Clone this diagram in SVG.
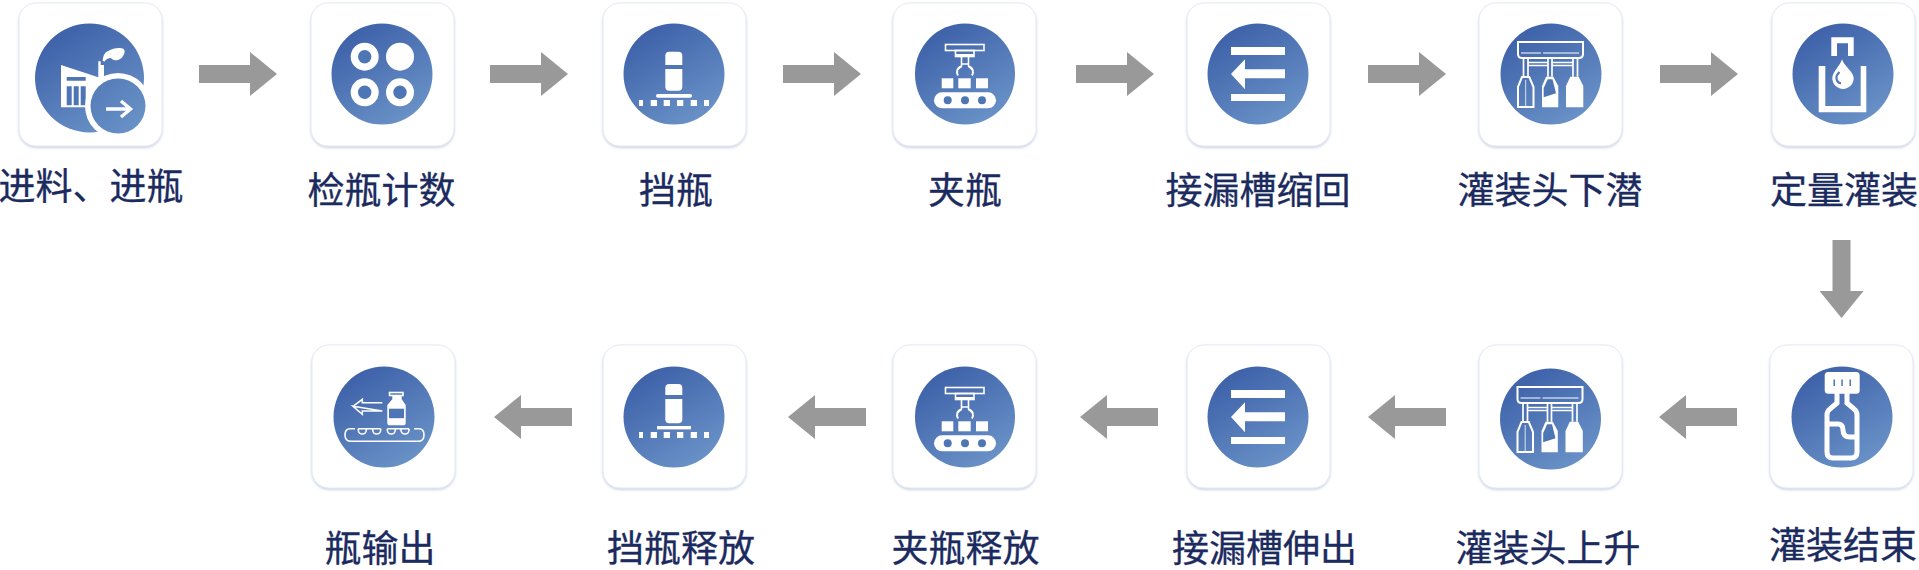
<svg xmlns="http://www.w3.org/2000/svg" width="1919" height="570" viewBox="0 0 1919 570">
<style>
.card{fill:#fff;stroke:#e4e9f3;stroke-width:1;filter:url(#sh)}
.disc{fill:url(#g)}
.w{fill:#fff}
.b{fill:#4f76b4}
.ol{fill:none;stroke:#fff;stroke-width:1.6}
.lb{font-family:"Noto Sans CJK SC","Noto Sans",sans-serif;font-size:37px;fill:#1b2b60;stroke:#1b2b60;stroke-width:.3;text-anchor:middle}
.ar{fill:#999}
</style>
<defs>
<linearGradient id="g" x1="0.2" y1="0.05" x2="0.8" y2="1"><stop offset="0" stop-color="#3d60a8"/><stop offset="1" stop-color="#6c95c9"/></linearGradient>
<linearGradient id="g2" x1="0" y1="0" x2="1" y2="1"><stop offset="0" stop-color="#5279b6"/><stop offset="1" stop-color="#6c95c9"/></linearGradient>
<filter id="sh" x="-10%" y="-10%" width="120%" height="120%"><feDropShadow dx="0" dy="1.5" stdDeviation="1.2" flood-color="#a9b8d4" flood-opacity="0.6"/></filter>
<path id="arrow" class="ar" d="M0,-9 H51 V-22 L78,0 L51,22 V9 H0Z"/>
<rect id="cardshape" class="card" width="143" height="143" rx="17"/>
<g id="ic-stop">
<rect class="disc" x="-50.5" y="-50.5" width="101" height="101" rx="50.5"/>
<rect class="w" x="-8.7" y="-22.3" width="17" height="39" rx="4"/>
<rect class="b" x="-9" y="-9" width="18" height="4"/>
<rect class="w" x="-18" y="20" width="36" height="3.7" rx="1.8"/>
<path class="w" d="M-35,26H-31V32H-35ZM-23.3,26H-17V32H-23.3ZM-10.3,26H-4V32H-10.3ZM3,26H9.3V32H3ZM16.7,26H23V32H16.7ZM30,26H35V32H30Z"/>
</g>
<g id="ic-stop2">
<rect class="disc" x="-50.5" y="-50.5" width="101" height="101" rx="50.5"/>
<rect class="w" x="-8.7" y="-33" width="17" height="39.3" rx="4"/>
<rect class="b" x="-9" y="-22" width="18" height="4"/>
<rect class="w" x="-17" y="9" width="34" height="3.4"/>
<path class="w" d="M-35,15H-31V21H-35ZM-23.3,15H-17V21H-23.3ZM-10.3,15H-4V21H-10.3ZM3,15H9.3V21H3ZM16.7,15H23V21H16.7ZM30,15H35V21H30Z"/>
</g>
<g id="ic-grip">
<rect class="disc" x="-50" y="-50.5" width="100" height="101" rx="50"/>
<rect class="ol" x="-19.5" y="-29.5" width="38.5" height="6"/>
<rect class="ol" x="-9.5" y="-23.5" width="18.5" height="6"/>
<rect class="w" x="-9.5" y="-20" width="18.5" height="3"/>
<path class="ol" d="M-3.5,-17V-8L-7,-4.5M3.5,-17V-8L7,-4.5M-3.5,-10H3.5"/>
<path d="M-3.5,-7.5C-8,-6.5-9,-2-7,1.5M3.5,-7.5C8,-6.5 9,-2 7,1.5" fill="none" stroke="#fff" stroke-width="2"/>
<rect class="w" x="-23.3" y="4.3" width="11.6" height="10"/>
<rect class="w" x="-6.7" y="4.3" width="12.4" height="10"/>
<rect class="w" x="11" y="4.3" width="12" height="10"/>
<rect class="w" x="-31" y="18.3" width="62" height="16" rx="8"/>
<circle class="b" cx="-17.3" cy="26.3" r="4"/><circle class="b" cy="26.3" r="4"/><circle class="b" cx="17" cy="26.3" r="4"/>
</g>
<g id="ic-ret">
<rect class="disc" x="-50.5" y="-50.5" width="101" height="101" rx="50.5"/>
<path class="w" d="M-27,-27H27V-19H-27ZM-27,20H27V27H-27ZM-27,0L-13,-14.7V-4.7H27V4.3H-13V15.3Z"/>
</g>
<g id="ic-fill">
<rect class="disc" x="-50.5" y="-50.5" width="101" height="101" rx="50.5"/>
<path d="M-33,-32H32V-20Q32,-16 28,-16H-29Q-33,-16-33,-20Z" fill="none" stroke="#fff" stroke-width="2"/>
<path d="M-30,-21H-10M-8,-21H28" stroke="#fff" stroke-width="1" fill="none"/>
<path d="M-27.5,-15.7V2.7M-23,-15.7V2.7M-3,-15.7V2.7M1,-15.7V2.7M22,-15.7V2.7M26.5,-15.7V2.7M-23,-11.5H-3M1,-11.5H22M-23,-8.5H-3M1,-8.5H22" fill="none" stroke="#fff" stroke-width="1.7"/>
<path d="M-29,3H-21.7L-17.5,13V33H-33V13Z" fill="none" stroke="#fff" stroke-width="2"/>
<path d="M-25.3,6V32" stroke="#fff" stroke-width="0.8"/>
<path class="w" d="M-5,2.7H2.3L7.3,12V33.3H-9V12Z"/>
<path class="b" d="M-3.3,5.3H1.5L5,19.3-7.3,23.3V14Z"/>
<path class="w" d="M19.3,2.7H27.7L32.3,12V33.3H15V12Z"/>
</g>
</defs>
<rect width="1919" height="570" fill="#fff"/>

<g id="connectors">
<use href="#arrow" x="199" y="74"/>
<use href="#arrow" x="490" y="74"/>
<use href="#arrow" x="783" y="74"/>
<use href="#arrow" x="1076" y="74"/>
<use href="#arrow" x="1368" y="74"/>
<use href="#arrow" x="1660" y="74"/>
<use href="#arrow" transform="translate(1841.5,240) rotate(90)"/>
<use href="#arrow" transform="translate(1737,417) rotate(180)"/>
<use href="#arrow" transform="translate(1446,417) rotate(180)"/>
<use href="#arrow" transform="translate(1158,417) rotate(180)"/>
<use href="#arrow" transform="translate(866,417) rotate(180)"/>
<use href="#arrow" transform="translate(572,417) rotate(180)"/>
</g>

<g id="n1">
<use href="#cardshape" x="19" y="3"/>
<circle class="disc" cx="89.5" cy="78" r="54.5"/>
<path class="w" d="M61,65L98.3,77.3V61.3H100.7V65H104V82L88.3,107.3H61Z"/>
<path class="w" d="M102.7,61C103,55.5 105,52 108.3,51C112,48.5 117,47.5 120,48C124.5,48 125.5,51 124,54C122.5,58.5 118.5,60.5 115,60.3C112.5,60.2 111.5,58 110,58C107.5,58.3 105.5,60 104.7,61.5Z"/>
<path class="b" d="M66.7,77H85.7V80.7H66.7ZM66.7,86.3H71.7V105.3H66.7ZM73.7,86.3H78.7V105.3H73.7ZM80.7,86.3H85.7V105.3H80.7Z"/>
<circle class="w" cx="118" cy="106" r="33"/>
<circle cx="118" cy="106" r="27.5" fill="url(#g2)"/>
<path d="M106,109H130M121,101L130.5,109L121,117" fill="none" stroke="#fff" stroke-width="3.4"/>
<text class="lb" x="91" y="200">进料、进瓶</text>
</g>

<g id="n2">
<use href="#cardshape" x="311" y="3"/>
<circle class="disc" cx="382" cy="74" r="50.5"/>
<g class="w"><circle cx="364.7" cy="56.7" r="14"/><circle cx="400" cy="56.7" r="14"/><circle cx="364.7" cy="92.3" r="14"/><circle cx="400" cy="92.3" r="14"/></g>
<g class="b"><circle cx="364.7" cy="56.7" r="6.7"/><circle cx="364.7" cy="92.3" r="6.7"/><circle cx="400" cy="92.3" r="6.7"/></g>
<text class="lb" x="381.5" y="204">检瓶计数</text>
</g>

<g id="n3">
<use href="#cardshape" x="603" y="3"/>
<use href="#ic-stop" x="674" y="74"/>
<text class="lb" x="676" y="204">挡瓶</text>
</g>

<g id="n4">
<use href="#cardshape" x="893" y="3"/>
<use href="#ic-grip" x="965" y="74"/>
<text class="lb" x="965" y="204">夹瓶</text>
</g>

<g id="n5">
<use href="#cardshape" x="1187" y="3"/>
<use href="#ic-ret" x="1258" y="74"/>
<text class="lb" x="1258" y="204">接漏槽缩回</text>
</g>

<g id="n6">
<use href="#cardshape" x="1479" y="3"/>
<use href="#ic-fill" x="1551" y="74"/>
<text class="lb" x="1550" y="204">灌装头下潜</text>
</g>

<g id="n7">
<use href="#cardshape" x="1772" y="3"/>
<circle class="disc" cx="1843" cy="74" r="50.5"/>
<path class="w" fill-rule="evenodd" d="M1831.3,37.3H1853.7V56H1848V43.3H1837V56H1831.3Z"/>
<path class="w" d="M1818.7,66H1825.3V106H1860.7V66H1866.3V112.3H1818.7Z"/>
<path class="w" d="M1842,59.3C1844,66 1853.7,72 1853.7,78.3A10.7,10.7 0 0 1 1832.3,78.3C1832.3,72 1840,66 1842,59.3Z"/>
<path d="M1839.5,72C1835,76 1835.5,82 1841,83.5" fill="none" stroke="#5279b6" stroke-width="2.2"/>
<text class="lb" x="1844" y="204">定量灌装</text>
</g>

<g id="n8">
<use href="#cardshape" x="1770" y="345"/>
<circle class="disc" cx="1842" cy="417" r="50.5"/>
<rect class="w" x="1824.7" y="372" width="35" height="21.7" rx="3.5"/>
<path class="b" d="M1833.5,379.5H1835V386H1833.5ZM1841.3,379.5H1842.8V386H1841.3ZM1849.5,379.5H1851V386H1849.5Z"/>
<path transform="translate(1842,417)" d="M-5,-24V-14L-12,-8Q-15,-6-15,-2V35Q-15,41-9,41H9Q15,41 15,35V-2Q15,-6 12,-8L5,-14V-24M-15,7H-4Q1,7 1,13Q1,20 8,20H15" fill="none" stroke="#fff" stroke-width="5"/>
<text class="lb" x="1843" y="558.5">灌装结束</text>
</g>

<g id="n9">
<use href="#cardshape" x="1479" y="345"/>
<use href="#ic-fill" x="1550.5" y="419"/>
<text class="lb" x="1548" y="562">灌装头上升</text>
</g>

<g id="n10">
<use href="#cardshape" x="1187" y="345"/>
<use href="#ic-ret" x="1258" y="417"/>
<text class="lb" x="1264.5" y="562">接漏槽伸出</text>
</g>

<g id="n11">
<use href="#cardshape" x="893" y="345"/>
<use href="#ic-grip" x="965" y="417"/>
<text class="lb" x="965.5" y="562">夹瓶释放</text>
</g>

<g id="n12">
<use href="#cardshape" x="603" y="345"/>
<use href="#ic-stop2" x="674" y="417"/>
<text class="lb" x="681" y="562">挡瓶释放</text>
</g>

<g id="n13">
<use href="#cardshape" x="312" y="345"/>
<circle class="disc" cx="384" cy="417" r="50.5"/>
<g transform="translate(384,417)">
<path class="ol" d="M-31,-10.7L-21.7,-17.7V-14.3H-1.7M-1.7,-6H-21.7V-2.7L-31,-10.7Z"/>
<rect class="ol" x="5.5" y="-24.5" width="13.5" height="3"/>
<path class="w" d="M8.3,-21.7H17.7V-17.7L21.7,-12V6Q21.7,8.3 19,8.3H6Q3.3,8.3 3.3,6V-12L8.3,-17.7Z"/>
<rect class="b" x="5" y="-8.3" width="15" height="9.5"/>
<path class="ol" d="M-29,11.7H-34Q-39,11.7-39,18Q-39,24.3-33,24.3H34Q40,24.3 40,18Q40,11.7 35,11.7H30M-25.7,11.7H-3.3M3.3,11.7H25"/>
<path class="ol" d="M-25.7,11.7V13A4,4 0 0 0-17.7,13V11.7M-11.3,11.7V13A4,4 0 0 0-3.3,13V11.7M3.3,11.7V13A4,4 0 0 0 11.3,13V11.7M17,11.7V13A4,4 0 0 0 25,13V11.7"/>
</g>
<text class="lb" x="380" y="562">瓶输出</text>
</g>
</svg>
